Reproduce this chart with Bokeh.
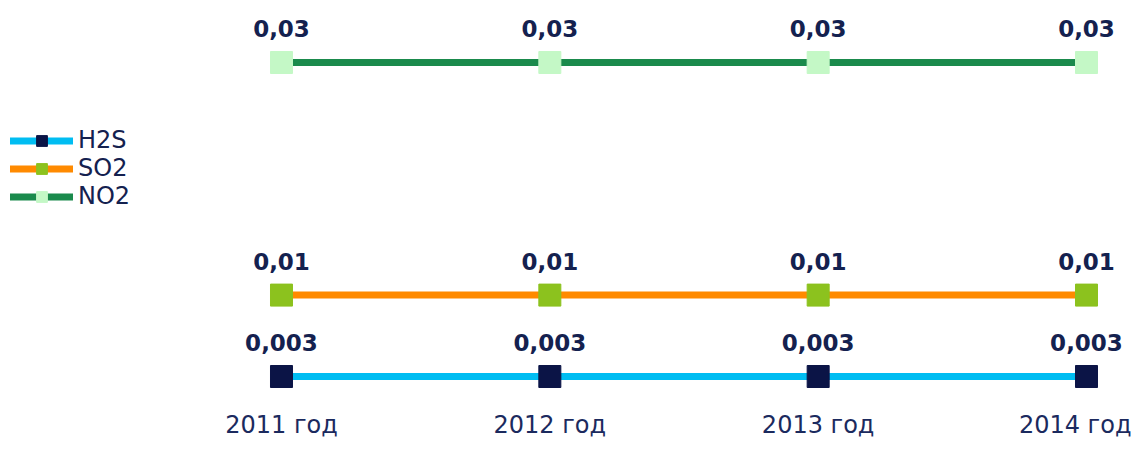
from bokeh.plotting import figure
from bokeh.models import Range1d, FixedTicker, Legend, LegendItem, ColumnDataSource
from bokeh.core.properties import value
from bokeh.embed import file_html
from bokeh.resources import INLINE

years = ["2011 год", "2012 год", "2013 год", "2014 год"]
xpos = [0, 1, 2, 3]
h2s = [0.003, 0.003, 0.003, 0.003]
so2 = [0.01, 0.01, 0.01, 0.01]
no2 = [0.03, 0.03, 0.03, 0.03]
h2s_lbl = ["0,003", "0,003", "0,003", "0,003"]
so2_lbl = ["0,01", "0,01", "0,01", "0,01"]
no2_lbl = ["0,03", "0,03", "0,03", "0,03"]

series = [
    ("H2S", h2s, h2s_lbl, "#00BDF2", "#0B1446"),
    ("SO2", so2, so2_lbl, "#FF8A00", "#8CC21E"),
    ("NO2", no2, no2_lbl, "#1A8A4C", "#C4F8C6"),
]

FONT = "DejaVu Sans"
NAVY = "#14214F"

p = figure(width=1131, height=441, output_backend="svg", toolbar_location=None,
           x_range=Range1d(-1.0472, 3.1677), y_range=Range1d(0.000851, 0.03533),
           y_axis_location=None,
           min_border_left=0, min_border_right=0, min_border_top=0, min_border_bottom=0)
p.outline_line_color = None
p.xgrid.grid_line_color = None
p.ygrid.grid_line_color = None
p.background_fill_color = "white"

ax = p.xaxis[0]
ax.ticker = FixedTicker(ticks=xpos)
ax.major_label_overrides = {x: y for x, y in zip(xpos, years)}
ax.axis_line_color = None
ax.major_tick_line_color = None
ax.minor_tick_line_color = None
ax.major_tick_out = 0
ax.major_tick_in = 0
ax.major_label_standoff = 9
ax.major_label_text_font = FONT
ax.major_label_text_font_size = "24px"
ax.major_label_text_color = "#1B2A5E"

items = []
for name, vals, lbls, lc, mc in series:
    src = ColumnDataSource(dict(x=xpos, y=vals, lbl=lbls))
    r1 = p.line("x", "y", source=src, line_color=lc, line_width=7, line_cap="round")
    r2 = p.scatter("x", "y", source=src, marker="square", size=22,
                   fill_color=mc, line_color=mc)
    p.text("x", "y", text="lbl", source=src, y_offset=-34, text_align="center",
           text_baseline="middle", text_font=value(FONT), text_font_style="bold",
           text_font_size="23px", text_color=NAVY)
    items.append(LegendItem(label=name, renderers=[r1, r2]))

legend = Legend(items=items, location=(10, 191), orientation="vertical",
                glyph_width=63, glyph_height=27, spacing=0, padding=0, margin=0,
                label_standoff=5, label_text_font=FONT, label_text_font_size="24px",
                label_text_color=NAVY, border_line_color=None,
                background_fill_alpha=0, label_height=20)
p.add_layout(legend)

open("out.html", "w").write(file_html(p, INLINE))
